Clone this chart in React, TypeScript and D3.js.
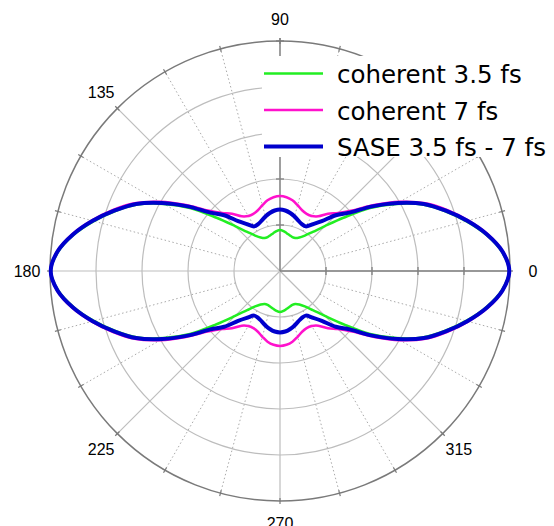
import React from "react";
import * as d3 from "d3";

// Angular samples for one quadrant (degrees); the patterns are mirror-symmetric
// about both the 0–180 and 90–270 axes.
const quadrantAngles = [0, 5, 10, 15, 20, 25, 30, 35, 40, 45, 50, 55, 60, 65, 70, 75, 80, 85, 90];

const coherent35 = [0.997, 0.968, 0.91, 0.838, 0.762, 0.684, 0.583, 0.478, 0.36, 0.276, 0.222, 0.188, 0.168, 0.158, 0.157, 0.161, 0.167, 0.174, 0.178];
const coherent7 = [0.998, 0.973, 0.918, 0.848, 0.775, 0.698, 0.602, 0.5, 0.41, 0.357, 0.325, 0.29, 0.276, 0.274, 0.281, 0.296, 0.312, 0.322, 0.326];
const sase = [0.997, 0.971, 0.914, 0.843, 0.767, 0.69, 0.592, 0.49, 0.395, 0.343, 0.283, 0.248, 0.224, 0.225, 0.233, 0.245, 0.256, 0.264, 0.267];

const seriesNames = ["coherent 3.5 fs", "coherent 7 fs", "SASE 3.5 fs - 7 fs"];
const seriesColors = ["#22ee22", "#ff11cc", "#0000cc"];
const seriesWidths = [2.5, 2.5, 4];

const ringValues = [0.2, 0.4, 0.6, 0.8, 1.0];
const angleLabels = [0, 90, 135, 180, 225, 270, 315];

const W = 554;
const H = 526;
const cx = 280;
const cy = 271;
const R = 230;

type Pt = { a: number; v: number };

function fullCircle(values: number[]): Pt[] {
  const pts: Pt[] = [];
  for (let a = 0; a < 360; a += 5) {
    let f = a % 180;
    if (f > 90) f = 180 - f;
    const idx = quadrantAngles.indexOf(f);
    pts.push({ a, v: values[idx] });
  }
  return pts;
}

export default function App() {
  const r = d3.scaleLinear().domain([0, 1]).range([0, R]);
  const toRad = (deg: number) => (deg * Math.PI) / 180;
  const px = (deg: number, rad: number) => cx + rad * Math.cos(toRad(deg));
  const py = (deg: number, rad: number) => cy - rad * Math.sin(toRad(deg));

  const line = d3
    .lineRadial<Pt>()
    .angle((d) => Math.PI / 2 - toRad(d.a))
    .radius((d) => r(d.v))
    .curve(d3.curveCatmullRomClosed.alpha(0.5));

  const data = [coherent35, coherent7, sase].map(fullCircle);

  const spokes = d3.range(0, 360, 15);
  const r0 = r(ringValues[0]);

  return (
    <svg width={W} height={H} style={{ position: "absolute", left: 0, top: 0 }}>
      <rect x={0} y={0} width={W} height={H} fill="#fff" />
      {/* rings */}
      {ringValues.slice(0, -1).map((v) => (
        <circle key={v} cx={cx} cy={cy} r={r(v)} fill="none" stroke="#bdbdbd" strokeWidth={1.2} />
      ))}
      {/* spokes */}
      {spokes.map((a) =>
        a % 45 === 0 ? (
          <line key={a} x1={cx} y1={cy} x2={px(a, R)} y2={py(a, R)} stroke="#bdbdbd" strokeWidth={1.2} />
        ) : (
          <line
            key={a}
            x1={px(a, r0)}
            y1={py(a, r0)}
            x2={px(a, R)}
            y2={py(a, R)}
            stroke="#aaaaaa"
            strokeWidth={1}
            strokeDasharray="1.5,2.5"
          />
        )
      )}
      {/* radial axes with tick crosses */}
      <line x1={cx} y1={cy} x2={cx + R} y2={cy} stroke="#808080" strokeWidth={1.3} />
      <line x1={cx} y1={cy} x2={cx} y2={cy - R - 3} stroke="#808080" strokeWidth={1.3} />
      {ringValues.map((v) => (
        <g key={v}>
          <line x1={cx + r(v)} y1={cy - 4} x2={cx + r(v)} y2={cy + 4} stroke="#808080" strokeWidth={1.3} />
          <line x1={cx - 4} y1={cy - r(v)} x2={cx + 4} y2={cy - r(v)} stroke="#808080" strokeWidth={1.3} />
        </g>
      ))}
      {/* outer circle and angular ticks */}
      <circle cx={cx} cy={cy} r={R} fill="none" stroke="#7a7a7a" strokeWidth={1.5} />
      {spokes.map((a) => (
        <line
          key={"t" + a}
          x1={px(a, R - 3)}
          y1={py(a, R - 3)}
          x2={px(a, R + 3)}
          y2={py(a, R + 3)}
          stroke="#7a7a7a"
          strokeWidth={1.2}
        />
      ))}
      {angleLabels.map((a) => (
        <text
          key={"l" + a}
          x={px(a, R + 23)}
          y={py(a, R + 22)}
          textAnchor="middle"
          dominantBaseline="central"
          fontFamily="Liberation Sans, Arial, sans-serif"
          fontSize={16}
          fill="#000"
        >
          {a}
        </text>
      ))}
      {/* curves */}
      <g transform={`translate(${cx},${cy})`}>
        {data.map((d, i) => (
          <path key={i} d={line(d) || ""} fill="none" stroke={seriesColors[i]} strokeWidth={seriesWidths[i]} />
        ))}
      </g>
      {/* legend */}
      <rect x={262} y={56} width={W - 262} height={101} fill="#fff" />
      {seriesNames.map((name, i) => {
        const y = 73.5 + i * 36.5;
        return (
          <g key={name}>
            <line x1={264} x2={323} y1={y} y2={y} stroke={seriesColors[i]} strokeWidth={seriesWidths[i]} />
            <text x={337} y={y + 9.5} fontFamily="DejaVu Sans, Verdana, sans-serif" fontSize={24.5} fill="#000">
              {name}
            </text>
          </g>
        );
      })}
    </svg>
  );
}
